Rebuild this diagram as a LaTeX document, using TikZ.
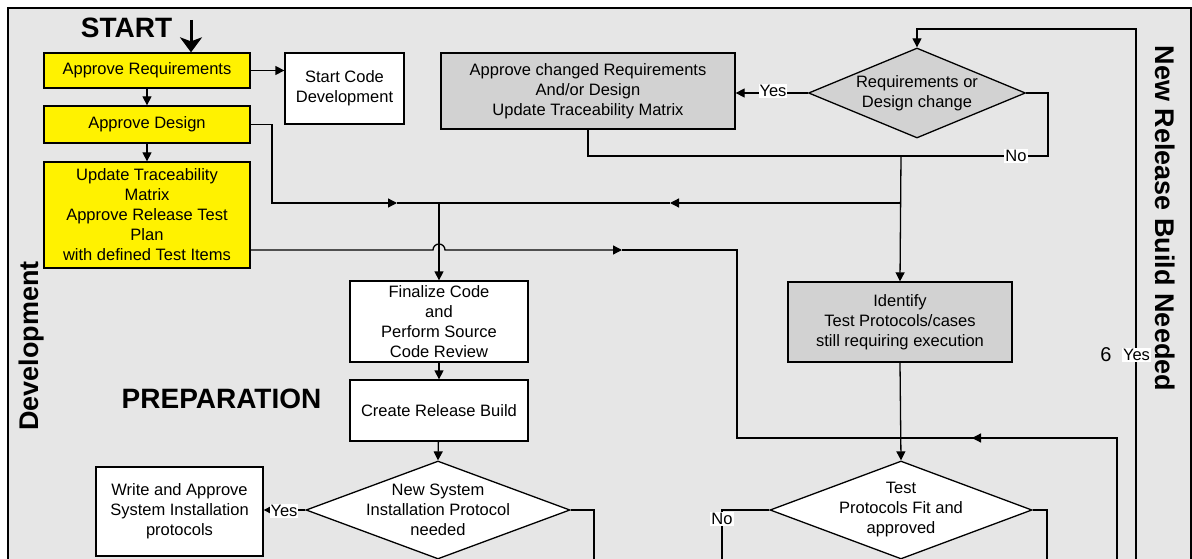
\documentclass[tikz,border=0pt]{standalone}
\usepackage{fontspec}
\setmainfont{Liberation Sans}
\usepackage{tikz}
\usetikzlibrary{arrows.meta,shapes.geometric}
\usepackage{xcolor}
\definecolor{paneGrey}{HTML}{E6E6E6}
\definecolor{boxGrey}{HTML}{D2D2D2}
\tikzstyle{txt}=[font=\fontsize{16.5}{20}\selectfont, align=center]
\tikzstyle{stepbox}=[txt, draw, line width=1.3pt, inner sep=0pt]
\tikzstyle{yellowbox}=[stepbox, fill=yellow]
\tikzstyle{whitebox}=[stepbox, fill=white]
\tikzstyle{greybox}=[stepbox, fill=boxGrey]
\tikzstyle{decision}=[stepbox, diamond, aspect=2.7, inner sep=-5pt]
\tikzstyle{lbl}=[txt, fill=white, inner sep=1pt]
\tikzstyle{arr}=[-{Triangle[length=9pt,width=9pt]}]
\tikzstyle{title}=[font=\fontsize{28}{32}\selectfont\bfseries, inner sep=0pt]
\tikzstyle{sidetitle}=[font=\fontsize{27}{30}\selectfont\bfseries, inner sep=0pt]
\newcommand{\flowbox}[6]{
	\node[#1, minimum width=#4pt, minimum height=#5pt] (#2) at #3 {#6};
}

\begin{document}
\begin{tikzpicture}[x=1pt, y=1pt, line width=1.3pt]
	\clip (0,0) rectangle (1192,-559);
	\draw[fill=paneGrey, line width=1.5pt] (8,-8) rectangle (1191,-600);
	\node[title] (start) at (126.5,-28) {START};
	\node[title] (prep) at (221.5,-399) {PREPARATION};
	\node[sidetitle, rotate=90, anchor=base] (dev) at (38,-346) {Development};
	\node[sidetitle, rotate=-90, anchor=base] (newBuild) at (1155,-218.5) {New Release Build Needed};
	\flowbox{yellowbox}{appReq}{(147,-70.5)}{206}{35}{Approve Requirements}
	\flowbox{yellowbox}{appDes}{(147,-124.5)}{206}{37}{Approve Design}
	\flowbox{yellowbox}{updTrace}{(147,-215)}{206}{106}{Update Traceability\\Matrix\\Approve Release Test\\Plan\\with defined Test Items}
	\flowbox{whitebox}{startCode}{(344.5,-88.5)}{119}{71}{Start Code\\Development}
	\flowbox{greybox}{appChg}{(588,-91)}{294}{76}{Approve changed Requirements\\And/or Design\\Update Traceability Matrix}
	\flowbox{decision, aspect=2.4, fill=boxGrey}{reqDiam}{(917,-93)}{217}{90}{Requirements or\\Design change}
	\flowbox{whitebox}{finCode}{(439,-321.5)}{178}{81}{Finalize Code\\and\\Perform Source\\Code Review}
	\flowbox{whitebox}{createBuild}{(439,-410.5)}{178}{61}{Create Release Build}
	\flowbox{decision, fill=white}{newSys}{(438,-510)}{264}{98}{New System\\Installation Protocol\\needed}
	\flowbox{whitebox}{writeInst}{(179.5,-511.5)}{167}{89}{Write and Approve\\System Installation\\protocols}
	\flowbox{greybox}{identify}{(900,-322)}{224}{80}{Identify\\Test Protocols/cases\\still requiring execution}
	\flowbox{decision, fill=white}{testDiam}{(901,-510)}{262}{98}{Test\\Protocols Fit and\\approved}
	\coordinate (startIn) at (191,-20);
	\coordinate (jA) at (439,-203);
	\coordinate (jB) at (901,-203);
	\coordinate (jC) at (901,-156);
	\coordinate (hop) at (439,-250);
	\coordinate (jD) at (737,-438);
	\coordinate (jF) at (1117,-438);
	\coordinate (loopTop) at (1136,-29);
	\coordinate (loopBot) at (1136,-570);
	\coordinate (retBot) at (1117,-570);
	\coordinate (buildOut) at (594,-570);
	\coordinate (testOutL) at (722,-570);
	\coordinate (testOutR) at (1047,-570);
	\draw[line width=3pt, -{Stealth[length=15pt,width=22pt,inset=4pt]}] (startIn) -- (startIn |- appReq.north);
	\draw[arr] (appReq) -- (appDes);
	\draw[arr] (appDes) -- (updTrace);
	\draw[arr] (appReq.east) -- (appReq.east -| startCode.west);
	\draw[arr] (appDes.east) -| (272,-203) -- (397,-203);
	\draw (397,-203) -- (jA);
	\draw[arr] (jB) -- (670,-203);
	\draw (670,-203) -- (jA);
	\draw[arr] (jA) -- (finCode.north);
	\draw[arr] (updTrace.east |- hop) -- ([xshift=-6pt]hop) arc (180:0:6) -- (622,-250);
	\draw (622,-250) -| (jD) -- (jF) -- (retBot);
	\draw[arr] (jF) -- (972,-438);
	\draw (appChg.south) |- (jC);
	\draw (reqDiam.east) -| (1048,-156) -- (jC);
	\draw[arr] (jC) -- (identify.north);
	\draw[arr] (reqDiam.west) -- (reqDiam.west -| appChg.east);
	\draw[arr] (loopBot) -- (loopTop) -| (reqDiam.north);
	\draw[arr] (identify.south) -- (testDiam.north);
	\draw[arr] (finCode) -- (createBuild);
	\draw[arr] (createBuild) -- (newSys.north);
	\draw[arr] (newSys.west) -- (newSys.west -| writeInst.east);
	\draw (newSys.east) -| (buildOut);
	\draw (testDiam.east) -| (testOutR);
	\draw (testDiam.west) -| (testOutL);
	\node[lbl] (yesChg) at (773,-91) {Yes};
	\node[lbl] (noChg) at (1016,-156) {No};
	\node[lbl] (yesLoop) at (1136.5,-355) {Yes};
	\node[txt, font=\fontsize{20}{24}\selectfont] (six) at (1106,-355) {6};
	\node[lbl] (yesInst) at (284,-511) {Yes};
	\node[lbl] (noTest) at (722,-519) {No};
\end{tikzpicture}
\end{document}
